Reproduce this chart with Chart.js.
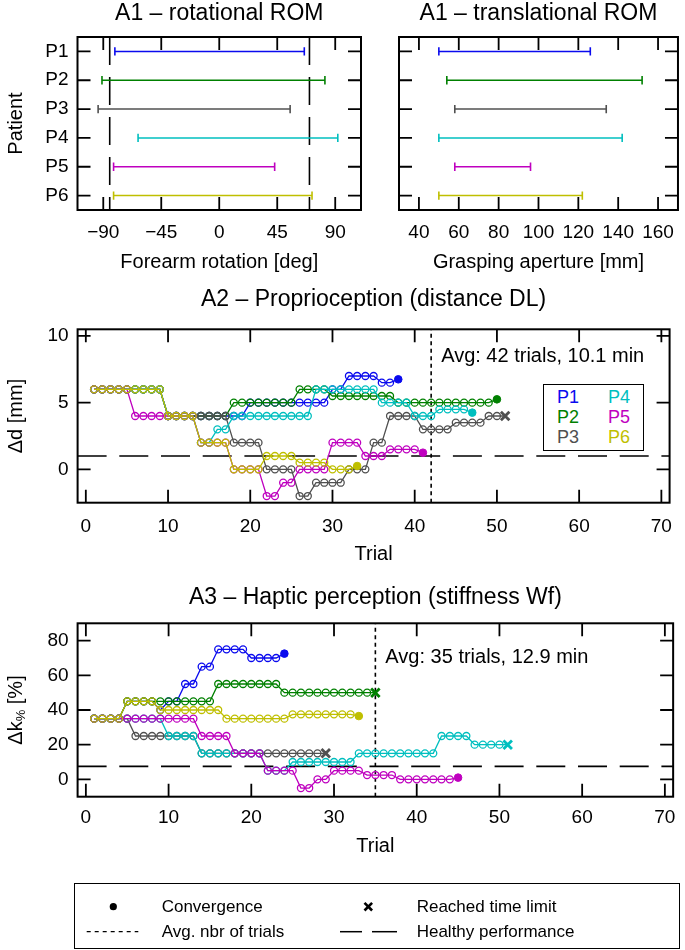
<!DOCTYPE html>
<html><head><meta charset="utf-8">
<script src="https://cdn.jsdelivr.net/npm/chart.js@4.4.0/dist/chart.umd.min.js"></script>
<style>
html,body{margin:0;padding:0;background:#fff;}
#wrap{position:relative;width:685px;height:950px;overflow:hidden;font-family:"Liberation Sans",Arial,Helvetica,sans-serif;color:#000;}
canvas{position:absolute;}
.t{position:absolute;white-space:nowrap;line-height:20px;height:20px;}
svg{position:absolute;overflow:visible;}
</style></head><body>
<div id="wrap">
<canvas id="a1l" width="370" height="280" style="left:0;top:0"></canvas>
<canvas id="a1r" width="315" height="280" style="left:370px;top:0"></canvas>
<canvas id="a2" width="685" height="290" style="left:0;top:280px"></canvas>
<canvas id="a3" width="685" height="290" style="left:0;top:570px"></canvas>

<div style="position:absolute;left:543px;top:384px;width:101px;height:67px;box-sizing:border-box;border:1.6px solid #000;background:#fff"></div>
<div class="t" style="left:557px;top:387px;font-size:18px;color:#0a0aee">P1</div>
<div class="t" style="left:557px;top:407px;font-size:18px;color:#008000">P2</div>
<div class="t" style="left:557px;top:427px;font-size:18px;color:#505050">P3</div>
<div class="t" style="left:608px;top:387px;font-size:18px;color:#00bfbf">P4</div>
<div class="t" style="left:608px;top:407px;font-size:18px;color:#bf00bf">P5</div>
<div class="t" style="left:608px;top:427px;font-size:18px;color:#bfbf00">P6</div>

<div style="position:absolute;left:74px;top:883px;width:606px;height:66px;box-sizing:border-box;border:1.6px solid #000;"></div>
<svg style="left:0;top:0" width="685" height="950">
  <circle cx="113.3" cy="906.7" r="3.6" fill="#000"/>
  <line x1="364.5" y1="902.9" x2="372.1" y2="910.5" stroke="#000" stroke-width="2.6"/>
  <line x1="364.5" y1="910.5" x2="372.1" y2="902.9" stroke="#000" stroke-width="2.6"/>
  <line x1="86.7" y1="931.7" x2="138.3" y2="931.7" stroke="#000" stroke-width="1.3" stroke-dasharray="4,4"/>
  <line x1="340" y1="931.7" x2="362" y2="931.7" stroke="#000" stroke-width="1.5"/>
  <line x1="372" y1="931.7" x2="397" y2="931.7" stroke="#000" stroke-width="1.5"/>
</svg>
<div class="t" style="left:161.7px;top:896.7px;font-size:17px">Convergence</div>
<div class="t" style="left:416.7px;top:896.7px;font-size:17px">Reached time limit</div>
<div class="t" style="left:161.7px;top:921.7px;font-size:17px">Avg. nbr of trials</div>
<div class="t" style="left:416.7px;top:921.7px;font-size:17px">Healthy performance</div>
</div>
<script>
// ---------------- data ----------------
const patients = ['P1','P2','P3','P4','P5','P6'];
const colors = ['#0a0aee','#008000','#505050','#00bfbf','#bf00bf','#bfbf00'];

const rotTicks = [-90,-45,0,45,90];
const rotMin = [-81,-91,-94,-63,-82,-82];
const rotMax = [66,82,55,92,43,72];
const rotHealthy = [-85,70];

const transTicks = [40,60,80,100,120,140,160];
const transMin = [50,54,58,50,58,50];
const transMax = [126,152,134,142,96,122];

const trialTicks = [0,10,20,30,40,50,60,70];

const distTicks = [0,5,10];
const distP1 = [6,6,6,6,6,6,6,6,6, 4,4,4,4, 4,4,4,4, 4,4, 5,5,5,5,5,5, 5,5,5,5, 6,6, 7,7,7,7, 6.5,6.5, 6.75];
const distP2 = [6,6,6,6,6,6,6,6,6, 4,4,4,4, 4,4,4,4, 5,5,5,5,5,5,5,5, 6,6,6,6, 5.5,5.5,5.5,5.5,5.5,5.5,5.5,5.5, 5,5,5,5,5,5,5,5,5,5,5,5, 5.25];
const distP3 = [6,6,6,6,6,6,6,6,6, 4,4,4,4, 4,4,4,4, 2,2,2,2, 0,0,0,0, -2,-2, -1,-1,-1,-1, 0,0,0, 2,2, 4,4,4,4, 3,3,3,3, 3.5,3.5,3.5,3.5, 4,4, 4];
const distP4 = [6,6,6,6,6,6,6,6,6, 4,4,4,4, 2,2, 3,3, 4,4,4,4,4,4,4,4,4,4, 6,6,6,6,6,6,6,6, 5,5,5,5, 4,4,4, 4.5,4.5,4.5,4.5, 4.25];
const distP5 = [6,6,6,6,6, 4,4,4,4, 4,4,4,4, 2,2,2,2, 0,0,0,0, -2,-2, -1,-1, 0,0,0,0, 2,2,2,2, 1,1,1, 1.5,1.5,1.5,1.5, 1.25];
const distP6 = [6,6,6,6,6,6,6,6,6, 4,4,4,4, 2,2,2,2, 0,0,0,0, 1,1,1,1, 0.5,0.5,0.5,0.5, 0,0,0, 0.25];
const distEnd = ['dot','dot','x','dot','dot','dot'];
const distHealthy = 1;
const distAvgTrials = 42;

const stiffTicks = [0,20,40,60,80];
const stiffP1 = [35,35,35,35, 45,45,45,45, 40, 45,45, 55,55, 65,65, 75,75,75,75, 70,70,70,70, 72.5];
const stiffP2 = [35,35,35,35, 45,45,45,45, 45,45,45,45,45,45,45, 55,55,55,55,55,55,55,55, 50,50,50,50,50,50,50,50,50,50,50, 50];
const stiffP3 = [35,35,35,35,35, 25,25,25,25, 25,25,25,25, 15,15,15,15,15,15,15,15, 15,15,15,15,15,15,15, 15];
const stiffP4 = [35,35,35,35,35,35,35,35,35, 25,25,25,25, 15,15,15,15, 15,15,15,15, 5,5,5, 10,10,10,10,10,10,10,10, 15,15,15,15,15,15,15,15,15,15, 25,25,25,25, 20,20,20,20, 20];
const stiffP5 = [35,35,35,35,35,35,35,35,35,35,35,35,35, 25,25,25,25, 15,15,15,15, 5,5,5,5, -5,-5, 0,0, 5,5,5,5, 2.5,2.5,2.5,2.5, 0,0,0,0,0,0,0, 1];
const stiffP6 = [35,35,35,35, 45,45,45,45, 40,40,40,40,40,40,40,40, 35,35,35,35,35,35,35,35, 37.5,37.5,37.5,37.5,37.5,37.5,37.5,37.5, 36.5];
const stiffEnd = ['dot','x','x','x','dot','dot'];
const stiffHealthy = 7.5;
const stiffAvgTrials = 35;

// ---------------- helpers ----------------
const FONT = '"Liberation Sans", Arial, Helvetica, sans-serif';
Chart.defaults.font.family = FONT;
Chart.defaults.color = '#000';
Chart.defaults.animation = false;
const TICK = 19, AX = 20, TIT = 23;

function fmt(v){ return v < 0 ? '\u2212' + Math.abs(v) : String(v); }

const framePlugin = {
  id: 'frame',
  afterDatasetsDraw(chart) {
    const {ctx, chartArea: a} = chart;
    const xs = chart.scales.x, ys = chart.scales.y;
    const L = 13;
    ctx.save();
    ctx.strokeStyle = '#000';
    ctx.lineWidth = 1.8;
    ctx.beginPath();
    xs.ticks.forEach((t, i) => {
      const p = xs.getPixelForTick(i);
      ctx.moveTo(p, a.bottom); ctx.lineTo(p, a.bottom - L);
      ctx.moveTo(p, a.top); ctx.lineTo(p, a.top + L);
    });
    ys.ticks.forEach((t, i) => {
      const p = ys.getPixelForTick(i);
      ctx.moveTo(a.left, p); ctx.lineTo(a.left + L, p);
      ctx.moveTo(a.right, p); ctx.lineTo(a.right - L, p);
    });
    ctx.stroke();
    ctx.lineWidth = 2;
    ctx.strokeRect(a.left, a.top, a.right - a.left, a.bottom - a.top);
    ctx.restore();
  }
};

// panel title centred over the plot area
const panelTitlePlugin = {
  id: 'panelTitle',
  afterDraw(chart, args, o) {
    if (!o || !o.text) return;
    const ctx = chart.ctx, a = chart.chartArea;
    ctx.save();
    ctx.font = o.size + 'px ' + FONT;
    ctx.fillStyle = '#000';
    ctx.textAlign = 'center';
    ctx.textBaseline = 'middle';
    ctx.fillText(o.text, (a.left + a.right) / 2, o.y);
    ctx.restore();
  }
};

const avgTextPlugin = {
  id: 'avgText',
  afterDraw(chart, args, o) {
    if (!o || !o.text) return;
    const ctx = chart.ctx;
    const x = chart.scales.x.getPixelForValue(o.xValue) + o.dx;
    const y = chart.scales.y.getPixelForValue(o.yValue);
    ctx.save();
    ctx.font = o.size + 'px ' + FONT;
    ctx.fillStyle = '#000';
    ctx.textBaseline = 'middle';
    ctx.textAlign = 'left';
    ctx.fillText(o.text, x, y);
    ctx.restore();
  }
};

const subTitlePlugin = {
  id: 'subTitle',
  afterDraw(chart, args, o) {
    if (!o || !o.parts) return;
    const ctx = chart.ctx, a = chart.chartArea;
    ctx.save();
    ctx.translate(o.x, (a.top + a.bottom) / 2);
    ctx.rotate(-Math.PI / 2);
    ctx.fillStyle = '#000';
    ctx.textBaseline = 'middle';
    let w = 0;
    const ws = o.parts.map(p => { ctx.font = p.size + 'px ' + FONT; const m = ctx.measureText(p.t).width; w += m; return m; });
    let x = -w / 2;
    o.parts.forEach((p, i) => { ctx.font = p.size + 'px ' + FONT; ctx.fillText(p.t, x, p.dy || 0); x += ws[i]; });
    ctx.restore();
  }
};

function linScale(min, max, ticks, pad, extra) {
  return Object.assign({
    type: 'linear', min: min, max: max,
    afterBuildTicks: s => { s.ticks = ticks.map(v => ({value: v})); },
    grid: {display: false, drawTicks: false},
    border: {display: false},
    ticks: {font: {size: TICK}, color: '#000', padding: pad, autoSkip: false, maxRotation: 0, callback: v => fmt(v)}
  }, extra);
}

// ---------------- A1 range of motion ----------------
function romChart(id, mins, maxs, ticks, xmin, xmax, healthy, title, xtitle, leftW, rightPad, showY) {
  const ds = patients.map((p, k) => ({
    data: [{x: mins[k], y: p}, {x: maxs[k], y: p}],
    borderColor: colors[k], backgroundColor: colors[k], borderWidth: 1.5,
    pointStyle: 'line', rotation: 90, pointRadius: 4.2, pointBorderWidth: 1.6,
    pointBorderColor: colors[k], order: 5
  }));
  healthy.forEach(h => ds.push({
    data: [{x: h, y: 1}, {x: h, y: 0}], yAxisID: 'yh',
    borderColor: '#000', borderWidth: 1.6, borderDash: [28, 12], pointRadius: 0, order: 20
  }));
  return new Chart(document.getElementById(id), {
    type: 'line',
    data: {datasets: ds},
    plugins: [framePlugin, panelTitlePlugin],
    options: {
      responsive: false, animation: false, events: [],
      layout: {autoPadding: false, padding: {left: 0, right: rightPad, top: 37, bottom: 0}},
      plugins: {
        legend: {display: false}, tooltip: {enabled: false}, title: {display: false},
        panelTitle: {text: title, size: TIT, y: 13.5}
      },
      scales: {
        x: linScale(xmin, xmax, ticks, 11, {
          title: {display: true, text: xtitle, font: {size: AX}, color: '#000', padding: {top: 0, bottom: 6}},
          afterFit: s => { s.height = 70; }
        }),
        y: {
          type: 'category', labels: patients, offset: true,
          grid: {display: false, drawTicks: false}, border: {display: false},
          ticks: {display: showY, font: {size: TICK}, color: '#000', padding: 9},
          title: {display: showY, text: 'Patient', font: {size: AX}, color: '#000', padding: {top: 4.5, bottom: 0}},
          afterFit: s => { s.width = leftW; }
        },
        yh: {type: 'linear', min: 0, max: 1, display: false}
      }
    }
  });
}
romChart('a1l', rotMin, rotMax, rotTicks, -110, 110, rotHealthy, 'A1 \u2013 rotational ROM', 'Forearm rotation [deg]', 77.5, 9, true);
romChart('a1r', transMin, transMax, transTicks, 30, 170, [], 'A1 \u2013 translational ROM', 'Grasping aperture [mm]', 29, 1.5, false);

// ---------------- A2 / A3 staircase series ----------------
function seriesDatasets(series, ends) {
  return series.map((arr, k) => {
    const last = arr.length - 1;
    const isX = ends[k] === 'x';
    return {
      data: arr.map((v, i) => ({x: i + 1, y: v})),
      borderColor: colors[k], backgroundColor: colors[k], borderWidth: 1.3,
      order: 10 - k, tension: 0,
      pointStyle: c => (c.dataIndex === last && isX) ? 'crossRot' : 'circle',
      pointRadius: c => c.dataIndex === last ? (isX ? 6 : 3.8) : 3.5,
      pointBorderWidth: c => c.dataIndex === last ? (isX ? 2.8 : 1) : 1.3,
      pointBackgroundColor: c => c.dataIndex === last ? colors[k] : 'rgba(0,0,0,0)',
      pointBorderColor: colors[k]
    };
  });
}

function trialChart(id, series, ends, ymin, ymax, yticks, healthy, avg, avgText, avgY, title, titleY, top, ytitle, xPad, xH, xTitlePad, sub) {
  const ds = seriesDatasets(series, ends);
  ds.push({data: [{x: -1, y: healthy}, {x: 71, y: healthy}], borderColor: '#000', borderWidth: 1.6, borderDash: [29, 12.7], pointRadius: 0, order: 20});
  ds.push({data: [{x: avg, y: ymin}, {x: avg, y: ymax}], borderColor: '#000', borderWidth: 1.6, borderDash: [4, 3.5], pointRadius: 0, order: 19});
  return new Chart(document.getElementById(id), {
    type: 'line',
    data: {datasets: ds},
    plugins: [framePlugin, avgTextPlugin, subTitlePlugin, panelTitlePlugin],
    options: {
      responsive: false, animation: false, events: [],
      layout: {autoPadding: false, padding: {left: 0, right: 4.8, top: top, bottom: 0}},
      plugins: {
        legend: {display: false}, tooltip: {enabled: false}, title: {display: false},
        panelTitle: {text: title, size: TIT, y: titleY},
        avgText: {text: avgText, xValue: avg, yValue: avgY, dx: 10, size: 20},
        subTitle: sub ? {x: 16.4, parts: sub} : {}
      },
      scales: {
        x: linScale(-1, 71, trialTicks, xPad, {
          title: {display: true, text: 'Trial', font: {size: AX}, color: '#000', padding: {top: 0, bottom: xTitlePad}},
          afterFit: s => { s.height = xH; }
        }),
        y: linScale(ymin, ymax, yticks, 9, {
          title: {display: !sub, text: ytitle, font: {size: AX}, color: '#000', padding: {top: 4.5, bottom: 0}},
          afterFit: s => { s.width = 77.6; }
        })
      }
    }
  });
}

trialChart('a2', [distP1, distP2, distP3, distP4, distP5, distP6], distEnd, -2.5, 10.5, distTicks,
  distHealthy, distAvgTrials, 'Avg: 42 trials, 10.1 min', 8.45,
  'A2 \u2013 Proprioception (distance DL)', 20, 49.3, '\u0394d [mm]', 13, 67.3, 3.5, null);

trialChart('a3', [stiffP1, stiffP2, stiffP3, stiffP4, stiffP5, stiffP6], stiffEnd, -10, 90, stiffTicks,
  stiffHealthy, stiffAvgTrials, 'Avg: 35 trials, 12.9 min', 70,
  'A3 \u2013 Haptic perception (stiffness Wf)', 28, 53.3, '', 9.5, 63.3, 1.5,
  [{t: '\u0394k', size: 20}, {t: '%', size: 13, dy: 5}, {t: ' [%]', size: 20}]);
</script>
</body></html>
